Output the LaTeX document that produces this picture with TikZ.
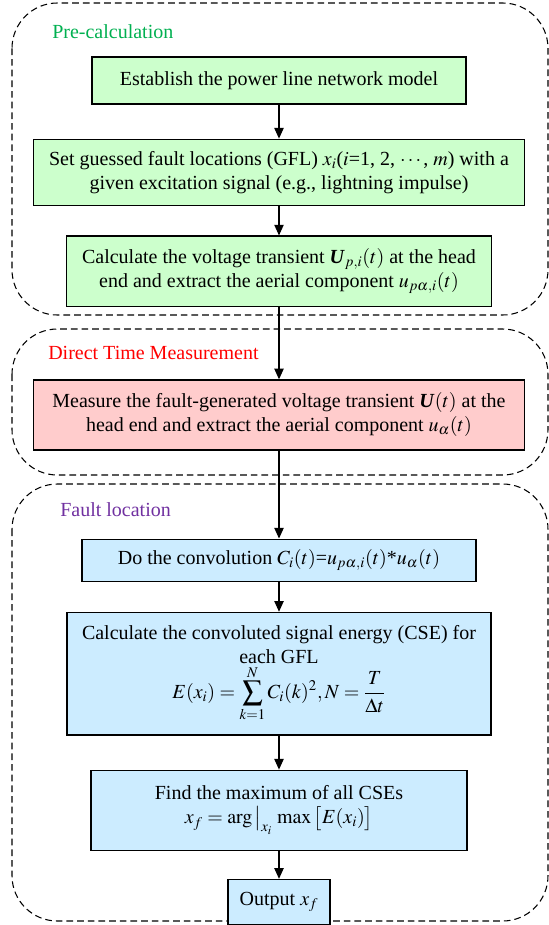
\documentclass[tikz,border=0pt]{standalone}
\usepackage{amsmath}
\usepackage{mathptmx}
\usepackage[no-math]{fontspec}
\setmainfont{Liberation Serif}
\usetikzlibrary{arrows.meta, positioning}
\definecolor{boxgreen}{RGB}{204,255,204}
\definecolor{boxpink}{RGB}{255,204,204}
\definecolor{boxblue}{RGB}{204,236,255}
\definecolor{labgreen}{RGB}{0,176,80}
\definecolor{labpurple}{RGB}{112,48,160}
\newcommand{\bU}{\textbf{\textit{U}}}

\begin{document}
\begin{tikzpicture}[x=0.75pt, y=-0.75pt, >={Triangle[length=8pt, width=7pt]}, font=\fontsize{15}{18}\selectfont, box/.style={draw, line width=0.9pt, align=center, inner sep=2pt}, group/.style={draw, dashed, dash pattern=on 5pt off 3pt, line width=0.8pt, rounded corners=34pt}, grouplabel/.style={anchor=west, inner sep=0pt}]
\useasboundingbox (0,0) rectangle (549,925);
% groups
\draw[group] (12,3) rectangle (548,315);
\draw[group] (12,329) rectangle (548,475);
\draw[group] (12,484) rectangle (548,921);
\node[grouplabel, text=labgreen] (lpre) at (52,32) {Pre-calculation};
\node[grouplabel, text=red] (lmeas) at (48,353) {Direct Time Measurement};
\node[grouplabel, text=labpurple] (lloc) at (60,510) {Fault location};
% steps
\node[box, fill=boxgreen, minimum width=280.5pt, minimum height=35.25pt] (model) at (279,80.5) {Establish the power line network model};
\node[box, fill=boxgreen, minimum width=368pt, minimum height=50pt, below=25.5pt of model] (gfl) {Set guessed fault locations (GFL) $x_i$($i$=1, 2, $\cdots$, $m$) with a\\ given excitation signal (e.g., lightning impulse)};
\node[box, fill=boxgreen, minimum width=319pt, minimum height=53pt, below=21.75pt of gfl] (calc) {Calculate the voltage transient $\bU_{p,i}(t)$ at the head\\ end and extract the aerial component $u_{p\alpha,i}(t)$};
\node[box, fill=boxpink, minimum width=368pt, minimum height=52.5pt, below=54pt of calc] (meas) {Measure the fault-generated voltage transient $\bU(t)$ at the\\ head end and extract the aerial component $u_\alpha(t)$};
\node[box, fill=boxblue, minimum width=295.5pt, minimum height=31.5pt, below=66pt of meas] (conv) {Do the convolution $C_i(t)$=$u_{p\alpha,i}(t)$*$u_\alpha(t)$};
\node[box, fill=boxblue, minimum width=318pt, minimum height=92pt, below=22.5pt of conv] (cse) {Calculate the convoluted signal energy (CSE) for\\ each GFL\\ $\displaystyle E(x_i)=\sum_{k=1}^{N} C_i(k)^2, N=\frac{T}{\Delta t}$};
\node[box, fill=boxblue, minimum width=282pt, minimum height=60pt, below=25.5pt of cse] (maxi) {Find the maximum of all CSEs\\ $x_f=\arg\big|_{x_i}\,\max\big[E(x_i)\big]$};
\node[box, fill=boxblue, minimum width=76.5pt, minimum height=34pt, below=21pt of maxi] (out) {Output $x_f$};
% arrows
\draw[->, line width=0.9pt] (model) -- (gfl);
\draw[->, line width=0.9pt] (gfl) -- (calc);
\draw[->, line width=0.9pt] (calc) -- (meas);
\draw[->, line width=0.9pt] (meas) -- (conv);
\draw[->, line width=0.9pt] (conv) -- (cse);
\draw[->, line width=0.9pt] (cse) -- (maxi);
\draw[->, line width=0.9pt] (maxi) -- (out);
\end{tikzpicture}
\end{document}
